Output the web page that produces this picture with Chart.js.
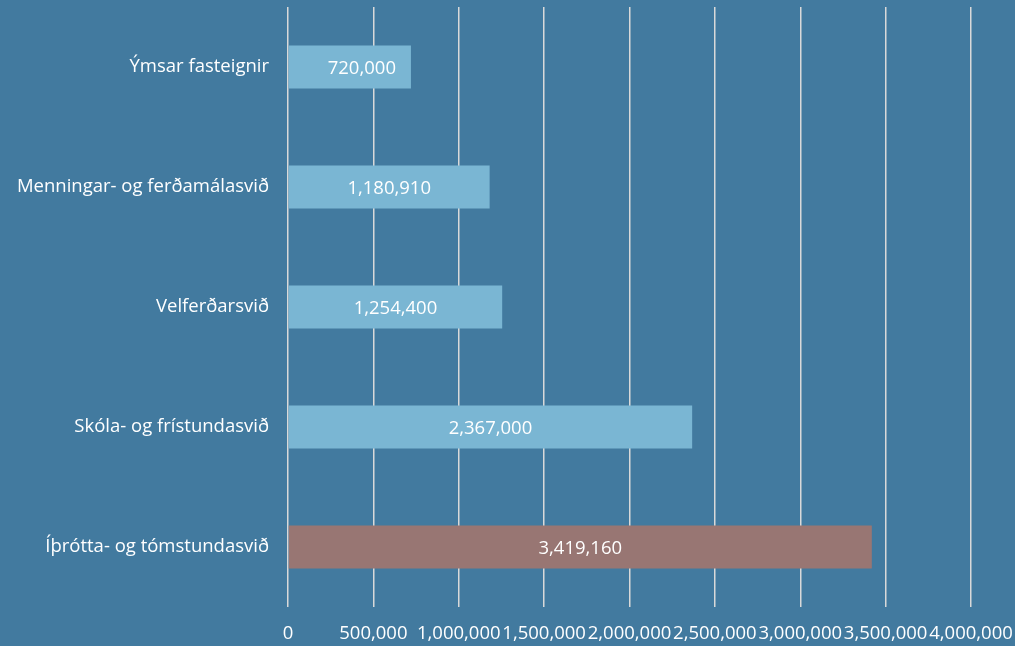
<!DOCTYPE html>
<html>
<head>
<meta charset="utf-8">
<script src="https://cdn.jsdelivr.net/npm/chart.js@4"></script>
<style>
  html, body { margin: 0; padding: 0; background: #427A9F; }
  canvas { display: block; }
</style>
</head>
<body>
<canvas id="c" width="1015" height="646"></canvas>
<script>
const categories = [
  "Ýmsar fasteignir",
  "Menningar- og ferðamálasvið",
  "Velferðarsvið",
  "Skóla- og frístundasvið",
  "Íþrótta- og tómstundasvið"
];
const values = [720000, 1180910, 1254400, 2367000, 3419160];
const barColors = ["#7AB6D3", "#7AB6D3", "#7AB6D3", "#7AB6D3", "#987673"];
const xMin = 0;
const xMax = 4000000;
const xStep = 500000;

const FONT = "'Open Sans', sans-serif";
const FONT_SIZE = 18.5;
const fmt = v => Number(v).toLocaleString('en-US');

const bgPlugin = {
  id: 'bg',
  beforeDraw(chart) {
    const ctx = chart.ctx;
    ctx.save();
    ctx.fillStyle = '#427A9F';
    ctx.fillRect(0, 0, chart.width, chart.height);
    ctx.restore();
  }
};

const labelPlugin = {
  id: 'barLabels',
  afterDatasetsDraw(chart, args, opts) {
    const ctx = chart.ctx;
    const meta = chart.getDatasetMeta(0);
    const shifts = opts.shiftX || [];
    ctx.save();
    ctx.font = FONT_SIZE + "px " + FONT;
    ctx.fillStyle = '#FFFFFF';
    ctx.textAlign = 'center';
    ctx.textBaseline = 'middle';
    meta.data.forEach((bar, i) => {
      const p = bar.getProps(['x', 'y', 'base'], true);
      ctx.fillText(fmt(chart.data.datasets[0].data[i]), (p.x + p.base) / 2 + (shifts[i] || 0), p.y + 2);
    });
    ctx.restore();
  }
};

new Chart(document.getElementById('c'), {
  type: 'bar',
  data: {
    labels: categories,
    datasets: [{
      data: values,
      backgroundColor: barColors,
      borderWidth: 0,
      categoryPercentage: 1,
      barPercentage: 0.36
    }]
  },
  options: {
    indexAxis: 'y',
    responsive: false,
    animation: false,
    layout: { padding: { top: 7, right: 44, left: 0, bottom: 0 } },
    plugins: {
      legend: { display: false },
      tooltip: { enabled: false },
      barLabels: { shiftX: [12, 0, 0, 0, 0] }
    },
    scales: {
      x: {
        min: xMin,
        max: xMax,
        grid: { color: '#D9D9D9', lineWidth: 1.5, drawTicks: false },
        border: { display: false },
        ticks: {
          stepSize: xStep,
          autoSkip: false,
          maxRotation: 0,
          minRotation: 0,
          padding: 16,
          color: '#FFFFFF',
          font: { family: FONT, size: FONT_SIZE },
          callback: v => fmt(v)
        },
        afterFit(scale) {
          scale.height = 39;
          scale.paddingLeft = 0;
          scale.paddingRight = 0;
        }
      },
      y: {
        grid: { display: false, drawTicks: false },
        border: { display: false },
        ticks: {
          padding: 19,
          color: '#FFFFFF',
          font: { family: FONT, size: FONT_SIZE }
        },
        afterFit(scale) {
          scale.width = 288;
          scale.paddingTop = 0;
          scale.paddingBottom = 0;
        }
      }
    }
  },
  plugins: [bgPlugin, labelPlugin]
});
</script>
</body>
</html>
